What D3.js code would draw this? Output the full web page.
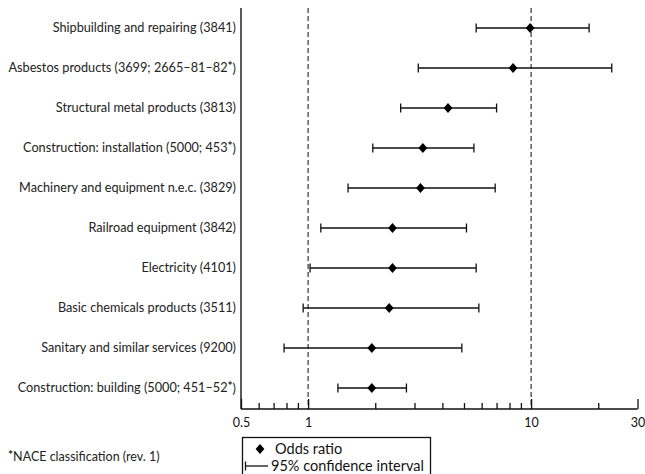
<!DOCTYPE html>
<html>
<head>
<meta charset="utf-8">
<script src="https://cdn.jsdelivr.net/npm/d3@7"></script>
<style>
  body { margin: 0; background: #fff; }
  svg { display: block; font-family: Lato, "Noto Sans", sans-serif; }
</style>
</head>
<body>
<svg id="chart" width="645" height="474"></svg>
<script>
// Industries (top to bottom); a "*" marks NACE codes
const industries = [
  "Shipbuilding and repairing (3841)",
  "Asbestos products (3699; 2665–81–82*)",
  "Structural metal products (3813)",
  "Construction: installation (5000; 453*)",
  "Machinery and equipment n.e.c. (3829)",
  "Railroad equipment (3842)",
  "Electricity (4101)",
  "Basic chemicals products (3511)",
  "Sanitary and similar services (9200)",
  "Construction: building (5000; 451–52*)"
];
const oddsRatio = [9.9, 8.3, 4.24, 3.27, 3.19, 2.39, 2.39, 2.31, 1.93, 1.93];
const ciLower   = [5.67, 3.12, 2.60, 1.95, 1.51, 1.14, 1.02, 0.95, 0.78, 1.36];
const ciUpper   = [18.2, 23.0, 7.0, 5.54, 6.9, 5.13, 5.67, 5.83, 4.89, 2.76];
const tickLabels = [0.5, 1, 10, 30];
const minorTicks = [0.6, 0.7, 0.8, 0.9, 2, 3, 4, 5, 6, 7, 8, 9, 20];
const refLines = [1, 10];

const svg = d3.select("#chart");
const x = d3.scaleLog().domain([0.5, 30]).range([241, 637.5]);
const y = d3.scalePoint().domain(industries).range([28, 388]);
const axisY = 409;
const ink = "#111";

// reference lines at OR = 1 and 10
svg.selectAll("line.ref").data(refLines).enter().append("line")
  .attr("class", "ref")
  .attr("x1", d => x(d)).attr("x2", d => x(d))
  .attr("y1", 8).attr("y2", axisY)
  .attr("stroke", "#444").attr("stroke-width", 1.3)
  .attr("stroke-dasharray", "5,3");

// left frame line
svg.append("line")
  .attr("x1", x(0.5)).attr("x2", x(0.5))
  .attr("y1", 8).attr("y2", axisY)
  .attr("stroke", ink).attr("stroke-width", 1.4);

// bottom axis with inward ticks
const axisG = svg.append("g").attr("transform", `translate(0,${axisY})`);
axisG.call(d3.axisBottom(x).tickValues(tickLabels.concat(minorTicks))
  .tickSize(-6).tickFormat(d => tickLabels.includes(d) ? String(d) : ""));
axisG.select(".domain").attr("d", `M${x(0.5)},0H${x(30)}`)
  .attr("stroke", ink).attr("stroke-width", 1.4);
axisG.selectAll(".tick line").attr("stroke", ink).attr("stroke-width", 1.3);
axisG.selectAll(".tick").filter(d => tickLabels.includes(d)).select("line").attr("y2", -10);
axisG.selectAll(".tick text")
  .attr("y", 9).attr("dy", "0.71em")
  .attr("font-size", 12.5).attr("font-family", "Lato, sans-serif").attr("fill", ink);

// writes text where each "*" becomes a raised star
function starText(sel, s, starSize) {
  s.split("*").forEach((p, i) => {
    if (i > 0) sel.append("tspan").text("*").attr("font-size", starSize)
      .attr("font-weight", "bold").attr("dy", "-0.2em");
    const t = sel.append("tspan").text(p);
    if (i > 0) t.attr("dy", "0.2em");
  });
}

// row labels
svg.selectAll("text.lab").data(industries).enter().append("text")
  .attr("class", "lab")
  .attr("x", 236).attr("y", d => y(d)).attr("dy", "0.35em")
  .attr("text-anchor", "end").attr("font-size", 12.7).attr("fill", "#222")
  .each(function(d) { starText(d3.select(this), d, 12); });

// confidence intervals and odds ratios
const rows = industries.map((name, i) => ({name, or: oddsRatio[i], lo: ciLower[i], hi: ciUpper[i]}));
const g = svg.selectAll("g.row").data(rows).enter().append("g").attr("class", "row");
g.append("line")
  .attr("x1", d => x(d.lo)).attr("x2", d => x(d.hi))
  .attr("y1", d => y(d.name)).attr("y2", d => y(d.name))
  .attr("stroke", ink).attr("stroke-width", 1.3);
g.append("line")
  .attr("x1", d => x(d.lo)).attr("x2", d => x(d.lo))
  .attr("y1", d => y(d.name) - 4.5).attr("y2", d => y(d.name) + 4.5)
  .attr("stroke", ink).attr("stroke-width", 1.3);
g.append("line")
  .attr("x1", d => x(d.hi)).attr("x2", d => x(d.hi))
  .attr("y1", d => y(d.name) - 4.5).attr("y2", d => y(d.name) + 4.5)
  .attr("stroke", ink).attr("stroke-width", 1.3);
const diamond = d3.symbol().type(d3.symbolDiamond).size(28);
g.append("path")
  .attr("d", diamond)
  .attr("transform", d => `translate(${x(d.or)},${y(d.name)}) scale(1.55,1)`)
  .attr("fill", "#000");

// footnote
const fn = svg.append("text").attr("x", 8).attr("y", 461).attr("font-size", 12.5).attr("fill", "#222");
starText(fn, "*NACE classification (rev. 1)", 12);

// legend
const leg = svg.append("g");
leg.append("rect").attr("x", 242.5).attr("y", 437.5).attr("width", 188).attr("height", 45)
  .attr("fill", "none").attr("stroke", ink).attr("stroke-width", 1.3);
leg.append("path").attr("d", diamond)
  .attr("transform", "translate(260,449) scale(1.55,1)").attr("fill", "#000");
leg.append("text").attr("x", 275).attr("y", 449).attr("dy", "0.35em")
  .attr("font-size", 14.5).attr("fill", "#111").text("Odds ratio");
leg.append("line").attr("x1", 245.5).attr("x2", 268).attr("y1", 466).attr("y2", 466)
  .attr("stroke", ink).attr("stroke-width", 1.3);
leg.append("line").attr("x1", 245.5).attr("x2", 245.5).attr("y1", 461.5).attr("y2", 470.5)
  .attr("stroke", ink).attr("stroke-width", 1.3);
leg.append("text").attr("x", 271).attr("y", 466).attr("dy", "0.35em")
  .attr("font-size", 14.5).attr("fill", "#111").text("95% confidence interval");
</script>
</body>
</html>
